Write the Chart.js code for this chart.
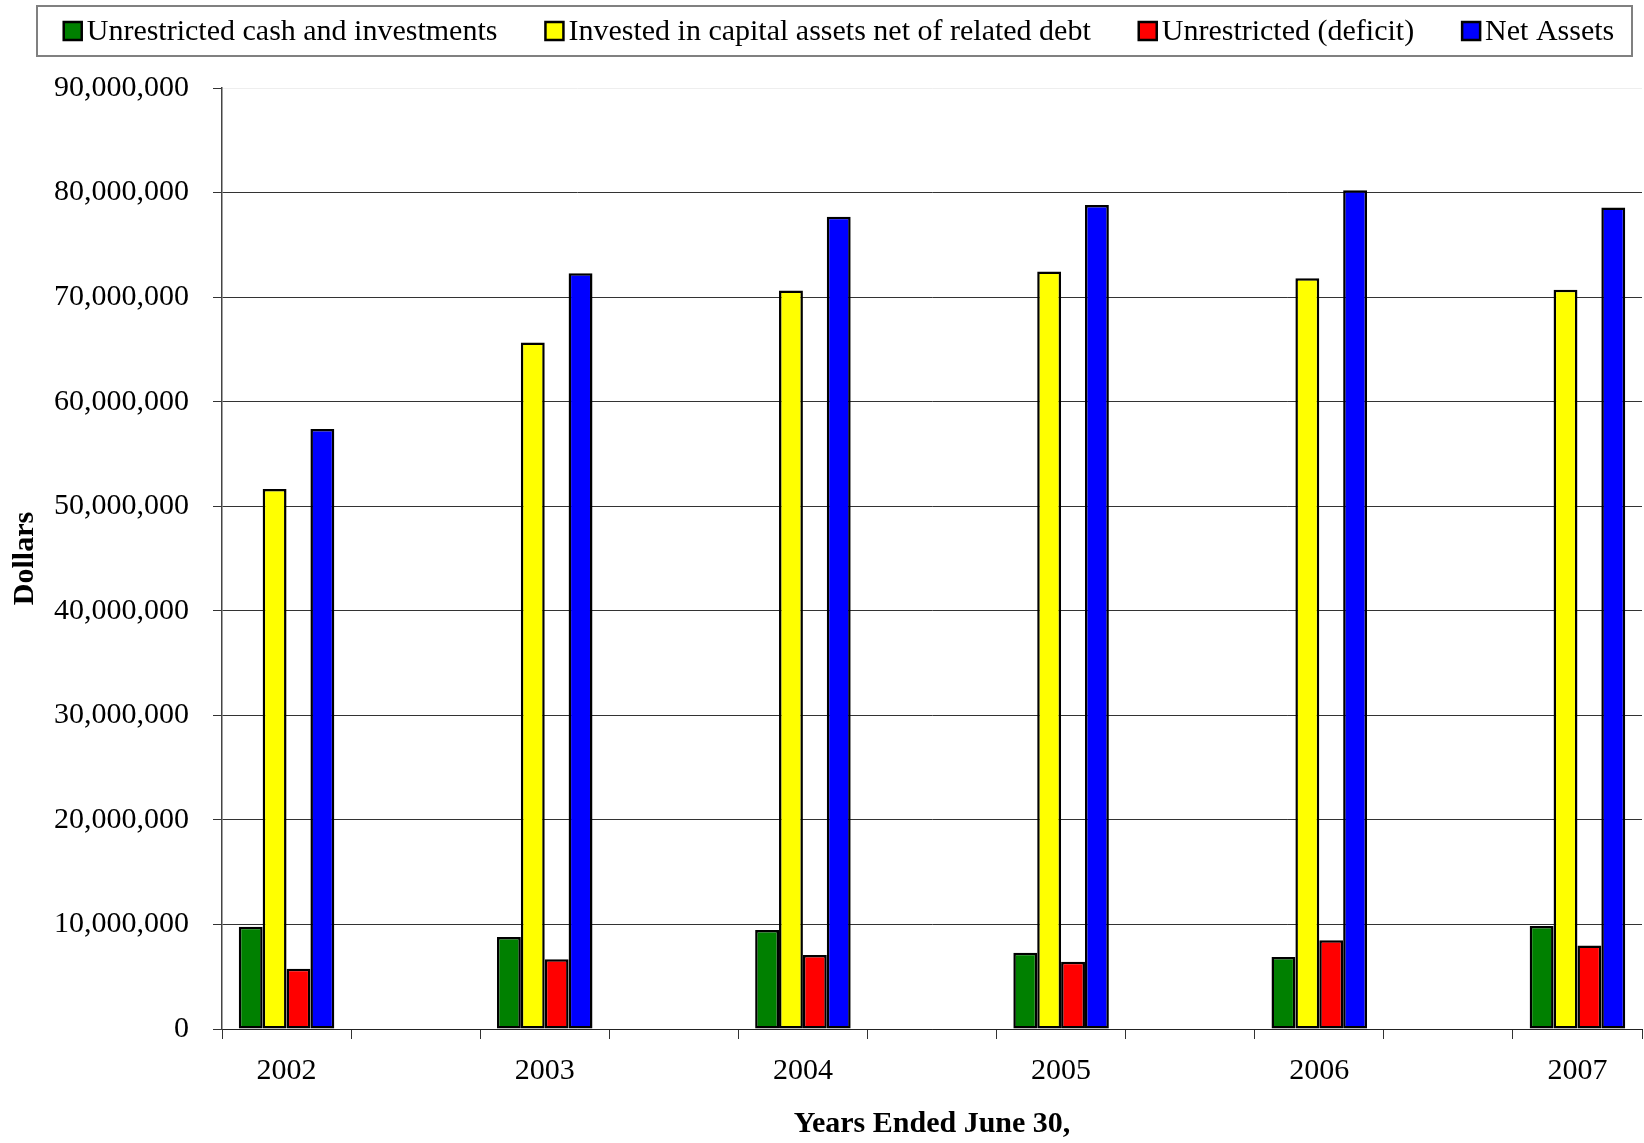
<!DOCTYPE html>
<html>
<head>
<meta charset="utf-8">
<title>Net Assets</title>
<script src="https://cdn.jsdelivr.net/npm/chart.js@4/dist/chart.umd.min.js"></script>
<style>
  html, body { margin: 0; padding: 0; background: #fff; }
  canvas { display: block; }
</style>
</head>
<body>
<canvas id="myChart" width="1644" height="1143"></canvas>
<script>
// values
const years = ['2002', '2003', '2004', '2005', '2006', '2007'];
const unrestrictedCash = [9780000, 8790000, 9460000, 7290000, 6880000, 9840000];
const investedCapital = [51650000, 65660000, 70630000, 72440000, 71810000, 70700000];
const unrestrictedDeficit = [5760000, 6660000, 7070000, 6430000, 8500000, 7990000];
const netAssets = [57380000, 72290000, 77680000, 78820000, 80220000, 78570000];

const seriesNames = [
  'Unrestricted cash and investments',
  'Invested in capital assets net of related debt',
  'Unrestricted (deficit)',
  'Net Assets'
];
const seriesColors = ['#008000', '#FFFF00', '#FF0000', '#0000FF'];
const yTicks = [0, 10000000, 20000000, 30000000, 40000000, 50000000, 60000000, 70000000, 80000000, 90000000];

// the original sheet has an empty column between years
const labels = [];
years.forEach((y, i) => {
  labels.push(y);
  if (i < years.length - 1) labels.push('');
});
function spread(values) {
  const out = [];
  values.forEach((v, i) => {
    out.push(v);
    if (i < values.length - 1) out.push(null);
  });
  return out;
}

const serif = '"Liberation Serif", "Times New Roman", serif';
Chart.defaults.font.family = serif;
Chart.defaults.color = '#000';

const allSeries = [unrestrictedCash, investedCapital, unrestrictedDeficit, netAssets];
const datasets = allSeries.map((vals, i) => ({
  label: seriesNames[i],
  data: spread(vals),
  backgroundColor: seriesColors[i],
  borderColor: '#000',
  borderWidth: 2.5,
  borderSkipped: false,
  categoryPercentage: 0.74,
  barPercentage: 1.0
}));

// boxed legend drawn like the spreadsheet one
const boxedLegend = {
  id: 'boxedLegend',
  afterDraw: (chart) => {
    const {ctx} = chart;
    ctx.save();
    ctx.strokeStyle = '#808080';
    ctx.lineWidth = 2;
    ctx.strokeRect(37, 6, 1595, 50);

    ctx.font = '30px ' + serif;
    ctx.textBaseline = 'middle';
    const box = 18, gap = 5, spacing = 48;
    const items = chart.data.datasets.map(ds => ({
      text: ds.label, color: ds.backgroundColor, w: ctx.measureText(ds.label).width
    }));
    let total = 0;
    items.forEach((it, i) => { total += box + gap + it.w + (i < items.length - 1 ? spacing : 0); });
    let x = 839 - total / 2;
    const cy = 31;
    items.forEach(it => {
      ctx.fillStyle = it.color;
      ctx.fillRect(x, cy - box / 2, box, box);
      ctx.strokeStyle = '#000';
      ctx.lineWidth = 2.5;
      ctx.strokeRect(x, cy - box / 2, box, box);
      ctx.fillStyle = '#000';
      ctx.fillText(it.text, x + box + gap, cy + 1);
      x += box + gap + it.w + spacing;
    });
    ctx.restore();
  }
};

new Chart(document.getElementById('myChart'), {
  type: 'bar',
  data: { labels: labels, datasets: datasets },
  options: {
    responsive: false,
    animation: false,
    layout: { padding: { top: 88, right: 2, left: 0, bottom: 0 } },
    plugins: {
      legend: { display: false },
      tooltip: { enabled: false }
    },
    scales: {
      x: {
        afterFit: (scale) => { scale.height = 114; },
        grid: {
          offset: true,
          drawOnChartArea: false,
          drawTicks: true,
          tickLength: 10,
          tickColor: '#333'
        },
        border: { color: '#222', width: 1 },
        ticks: {
          autoSkip: false,
          maxRotation: 0,
          padding: 14,
          font: { size: 30 }
        },
        title: {
          display: true,
          text: 'Years Ended June 30,',
          font: { size: 30, weight: 'bold' },
          padding: { top: 0, bottom: 1 }
        }
      },
      y: {
        min: 0,
        max: 90000000,
        afterFit: (scale) => { scale.width = 222; },
        afterBuildTicks: (scale) => { scale.ticks = yTicks.map(v => ({ value: v })); },
        grid: {
          color: (c) => (c.tick && c.tick.value === 90000000) ? '#eeeeee' : '#333',
          tickColor: '#333',
          tickLength: 9,
          lineWidth: 1
        },
        border: { color: '#444', width: 1.5 },
        ticks: {
          padding: 24,
          font: { size: 30 },
          callback: (v) => Number(v).toLocaleString('en-US')
        },
        title: {
          display: true,
          text: 'Dollars',
          font: { size: 30, weight: 'bold' },
          padding: { top: 7, bottom: 0 }
        }
      }
    }
  },
  plugins: [boxedLegend]
});
</script>
</body>
</html>
